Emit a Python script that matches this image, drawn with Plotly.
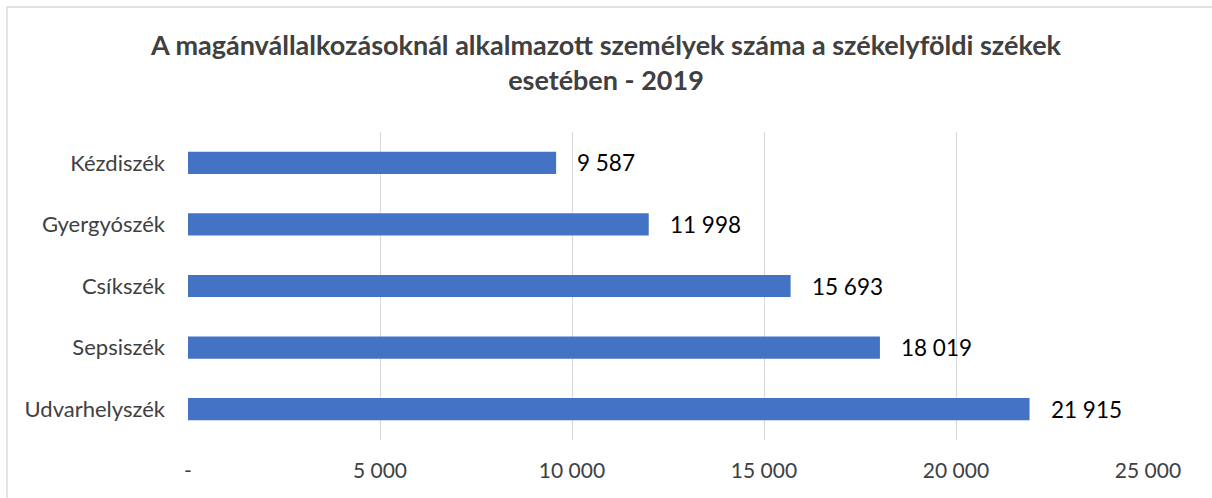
import plotly.graph_objects as go

categories = ["Udvarhelyszék", "Sepsiszék", "Csíkszék", "Gyergyószék", "Kézdiszék"]
values = [21915, 18019, 15693, 11998, 9587]
value_labels = ["21 915", "18 019", "15 693", "11 998", "9 587"]
tick_vals = [0, 5000, 10000, 15000, 20000, 25000]
tick_text = ["-", "5 000", "10 000", "15 000", "20 000", "25 000"]

FONT = "Lato, Open Sans, sans-serif"
W, H = 1212, 498
L, R, T, B = 188, 64, 132, 58
pw, ph = W - L - R, H - T - B

fig = go.Figure(go.Bar(
    y=categories, x=values, orientation="h",
    marker=dict(color="#4472C4", line=dict(width=0)),
    hoverinfo="skip",
))

for c, v, t in zip(categories, values, value_labels):
    fig.add_annotation(x=v, y=c, text=t, showarrow=False, xanchor="left",
                       xshift=19, font=dict(family=FONT, size=22.5, color="#000000"))

fig.add_shape(type="rect", xref="paper", yref="paper",
              x0=(7 - L) / pw, x1=(1220 - L) / pw,
              y0=(H - B - 505) / ph, y1=(H - B - 7) / ph,
              line=dict(color="#d9d9d9", width=1.3), fillcolor="rgba(0,0,0,0)", layer="below")

fig.update_layout(
    width=W, height=H,
    margin=dict(l=L, r=R, t=T, b=B),
    paper_bgcolor="white", plot_bgcolor="white",
    bargap=0.64,
    showlegend=False,
    title=dict(
        text="<b>A magánvállalkozásoknál alkalmazott személyek száma a székelyföldi székek<br>esetében - 2019</b>",
        x=0.5, xanchor="center", y=0.89, yanchor="middle",
        font=dict(family=FONT, size=27, color="#404040"),
    ),
    xaxis=dict(
        range=[0, 25000], tickvals=tick_vals, ticktext=tick_text,
        showgrid=True, gridcolor="#d9d9d9", gridwidth=1.3,
        zeroline=False, showline=False, ticks="",
        tickfont=dict(family=FONT, size=21, color="#404040"),
        ticklabelstandoff=16,
    ),
    yaxis=dict(
        showgrid=False, zeroline=False, showline=False, ticks="",
        tickfont=dict(family=FONT, size=22, color="#404040"),
        ticklabelstandoff=22,
    ),
)

fig.write_html("out.html", config={"displayModeBar": False},
               post_script="document.body.style.margin='0';")
